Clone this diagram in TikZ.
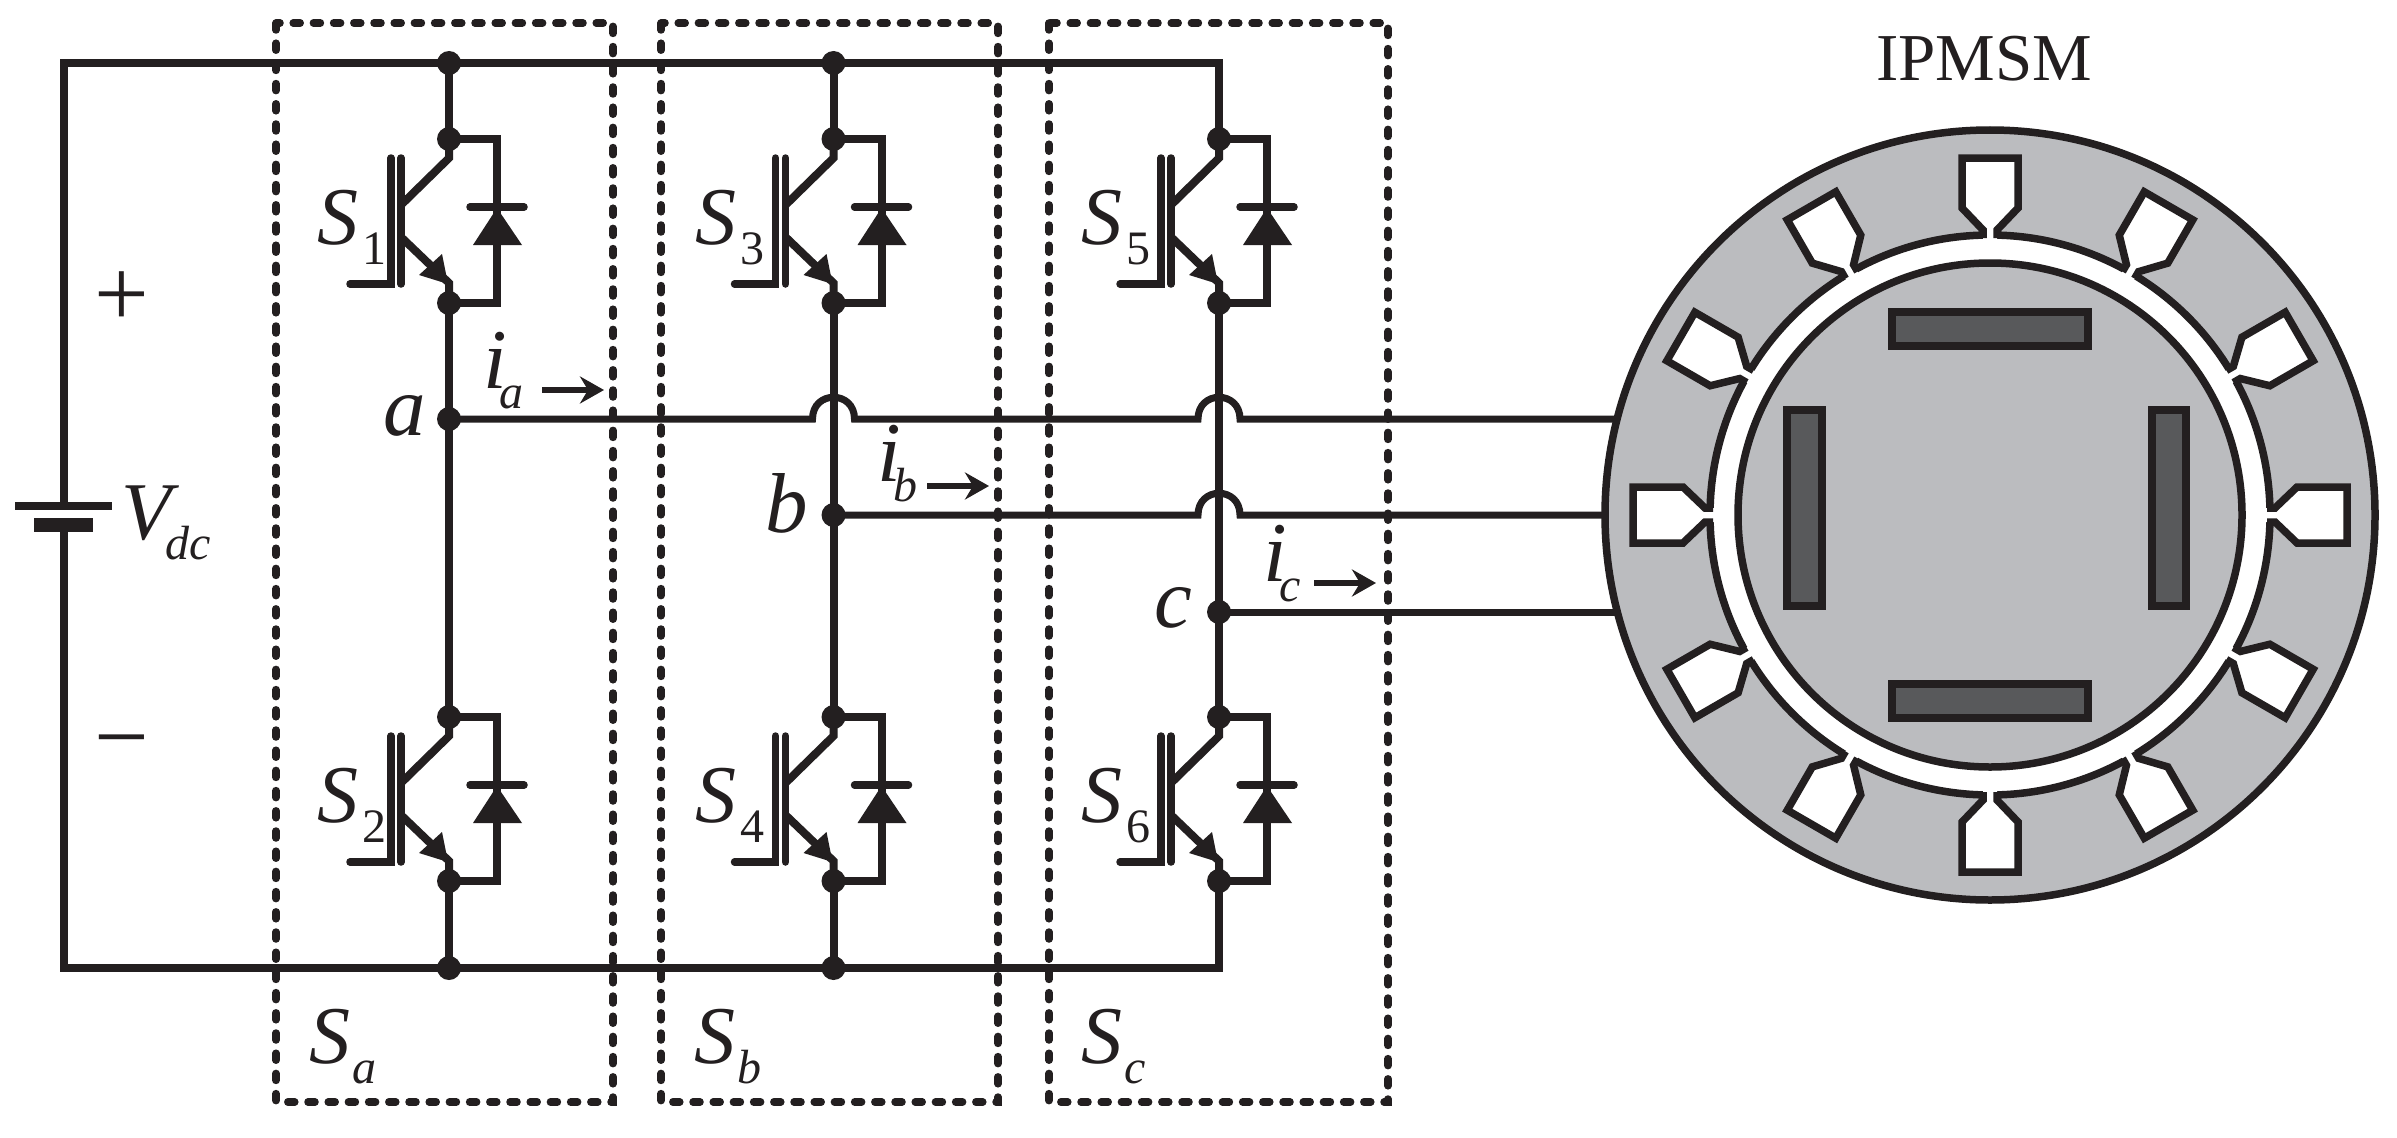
\documentclass[tikz,border=0pt]{standalone}
\usepackage{fontspec}
\setmainfont{Liberation Serif}
\usetikzlibrary{arrows.meta}
\definecolor{ink}{HTML}{231F20}
\definecolor{steel}{HTML}{BBBCBF}
\definecolor{magnet}{HTML}{58595B}
\newcommand{\MainSub}[4]{\fontsize{#1}{#1}\selectfont\textit{#2}\kern#3pt\lower20pt\hbox{\fontsize{48}{48}\selectfont#4}}
\tikzset{
  x=1pt,y=-1pt,
  wire/.style={draw=ink,line width=8pt,line join=miter},
  bar/.style={draw=ink,line width=7.5pt,line cap=round},
  dot/.style={circle,fill=ink,inner sep=0pt,minimum size=24pt},
  group/.style={draw=ink,line width=7.5pt,line cap=round,dash pattern=on 7pt off 13.2pt},
  lab/.style={text=ink,anchor=base west,inner sep=0pt,outer sep=0pt},
  current/.style={draw=ink,line width=6pt,-{Stealth[length=24pt,width=27pt,inset=8pt]}},
  slotline/.style={draw=ink,line width=7.5pt,line join=miter},
  rim/.style={draw=ink,line width=7.5pt},
  magnetbar/.style={draw=ink,fill=magnet,line width=7.5pt},
}
\begin{document}
\begin{tikzpicture}
\useasboundingbox[fill=white] (0,0) rectangle (2397,1137);

% junctions on the legs
\node[dot] (topa) at (449,63) {};
\node[dot] (topb) at (833.5,63) {};
\node[dot] (bota) at (449,968) {};
\node[dot] (botb) at (833.5,968) {};
\node[dot] (na) at (449,419) {};
\node[dot] (nb) at (833.5,515) {};
\node[dot] (nc) at (1219,612) {};
\coordinate (ba) at (64,506);
\coordinate (bb) at (64,518);
\coordinate (tlc) at (64,63);
\coordinate (blc) at (64,968);
\coordinate (trc) at (1219,63);
\coordinate (brc) at (1219,968);

% switches
\foreach \n/\lx/\ly/\sx in {1/0/0/-132,2/0/578/-132,3/384.5/0/-138,4/384.5/578/-138,5/770/0/-138,6/770/578/-138}{
\begin{scope}[shift={(\lx,\ly)}]
  \node[dot] (c\n) at (449,139) {};
  \node[dot] (e\n) at (449,303) {};
  \coordinate (ct\n) at (449,158);
  \coordinate (et\n) at (449,283);
  \coordinate (cj\n) at (401,205);
  \coordinate (ej\n) at (401,237);
  \coordinate (gl\n) at (350,284);
  \coordinate (gb\n) at (391,284);
  \draw[wire] (c\n.center) -- (ct\n) -- (cj\n);
  \draw[wire] (e\n.center) -- (et\n) -- (ej\n);
  \draw[bar] (391,158) -- (gb\n) -- (gl\n);
  \draw[bar] (401,158) -- (401,284);
  \fill[ink] (448,284) -- (442,254) -- (419,275) -- cycle;
  \draw[wire] (c\n.center) -- (497,139) -- (497,303) -- (e\n.center);
  \draw[bar] (470,207) -- (524,207);
  \fill[ink] (497,208) -- (522,245) -- (473,245) -- cycle;
  \node[lab] (s\n) at (449+\sx,244) {\MainSub{82}{S}{4}{\n}};
\end{scope}
}

% power rails and leg links
\draw[wire] (ba) -- (tlc) -- (trc) -- (c5.center);
\draw[wire] (bb) -- (blc) -- (brc) -- (e6.center);
\draw[wire] (topa.center) -- (c1.center);
\draw[wire] (topb.center) -- (c3.center);
\draw[wire] (e2.center) -- (bota.center);
\draw[wire] (e4.center) -- (botb.center);
\draw[wire] (e1.center) -- (na.center) -- (c2.center);
\draw[wire] (e3.center) -- (nb.center) -- (c4.center);
\draw[wire] (e5.center) -- (nc.center) -- (c6.center);

% battery
\draw[draw=ink,line width=8pt] (15,506) -- (112,506);
\fill[ink] (34,518) rectangle (93,532);
\node[lab,anchor=base] (plus) at (122,326) {\fontsize{97}{97}\selectfont +};
\node[lab,anchor=base] (minus) at (122,769) {\fontsize{97}{97}\selectfont −};
\node[lab] (vdc) at (121,539) {\MainSub{82}{V}{-13}{\textit{dc}}};

% phase wires with crossings
\coordinate (ma) at (1625,419);
\coordinate (mb) at (1612,515);
\coordinate (mc) at (1625,612);
\draw[wire,line width=7pt] (na.center) -- (812.5,419)
  .. controls (812.5,390) and (854.5,390) .. (854.5,419)
  -- (1198,419) .. controls (1198,390) and (1240,390) .. (1240,419) -- (ma);
\draw[wire,line width=7pt] (nb.center) -- (1198,515)
  .. controls (1198,486) and (1240,486) .. (1240,515) -- (mb);
\draw[wire,line width=7pt] (nc.center) -- (mc);

% phase labels
\node[lab] (la) at (383,435) {\fontsize{85}{85}\selectfont\textit{a}};
\node[lab] (lb) at (765,532) {\fontsize{85}{85}\selectfont\textit{b}};
\node[lab] (lc) at (1154,627) {\fontsize{85}{85}\selectfont\textit{c}};
\node[lab] (ia) at (483,388) {\MainSub{85}{i}{-7}{\textit{a}}};
\node[lab] (ib) at (877,481) {\MainSub{85}{i}{-7}{\textit{b}}};
\node[lab] (ic) at (1263,581) {\MainSub{85}{i}{-7}{\textit{c}}};
\coordinate (iat) at (542,390);\coordinate (iah) at (604,390);
\coordinate (ibt) at (927,486);\coordinate (ibh) at (989,486);
\coordinate (ict) at (1314,583);\coordinate (ich) at (1376,583);
\draw[current] (iat) -- (iah);
\draw[current] (ibt) -- (ibh);
\draw[current] (ict) -- (ich);

% switch groups
\draw[group] (276,23) rectangle (613,1102);
\draw[group] (661,23) rectangle (998,1102);
\draw[group] (1049,23) rectangle (1388,1102);
\node[lab] (sa) at (309,1063) {\MainSub{82}{S}{2}{\textit{a}}};
\node[lab] (sb) at (694,1063) {\MainSub{82}{S}{2}{\textit{b}}};
\node[lab] (sc) at (1081,1063) {\MainSub{82}{S}{2}{\textit{c}}};

% motor
\filldraw[rim,fill=steel] (1990,515) circle[radius=385pt];
\filldraw[rim,fill=white] (1990,515) circle[radius=280pt];
\filldraw[rim,fill=steel] (1990,515) circle[radius=252pt];
\filldraw[magnetbar] (1892,312) rectangle (2088,346);
\filldraw[magnetbar] (1892,684) rectangle (2088,718);
\filldraw[magnetbar] (1787,410) rectangle (1822,606);
\filldraw[magnetbar] (2152,410) rectangle (2186,606);
\foreach \a in {0,30,...,330}{
\begin{scope}[shift={(1990,515)},rotate=\a]
  \fill[white] (-7,-274) -- (-7,-285) -- (-28,-307) -- (-28,-357) -- (28,-357) -- (28,-307) -- (7,-285) -- (7,-274) -- cycle;
  \draw[slotline] (-7,-277) -- (-7,-285) -- (-28,-307) -- (-28,-357) -- (28,-357) -- (28,-307) -- (7,-285) -- (7,-277);
\end{scope}
}
\node[lab,anchor=base] (title) at (1984,81) {\fontsize{67}{67}\selectfont IPMSM};
\end{tikzpicture}
\end{document}
